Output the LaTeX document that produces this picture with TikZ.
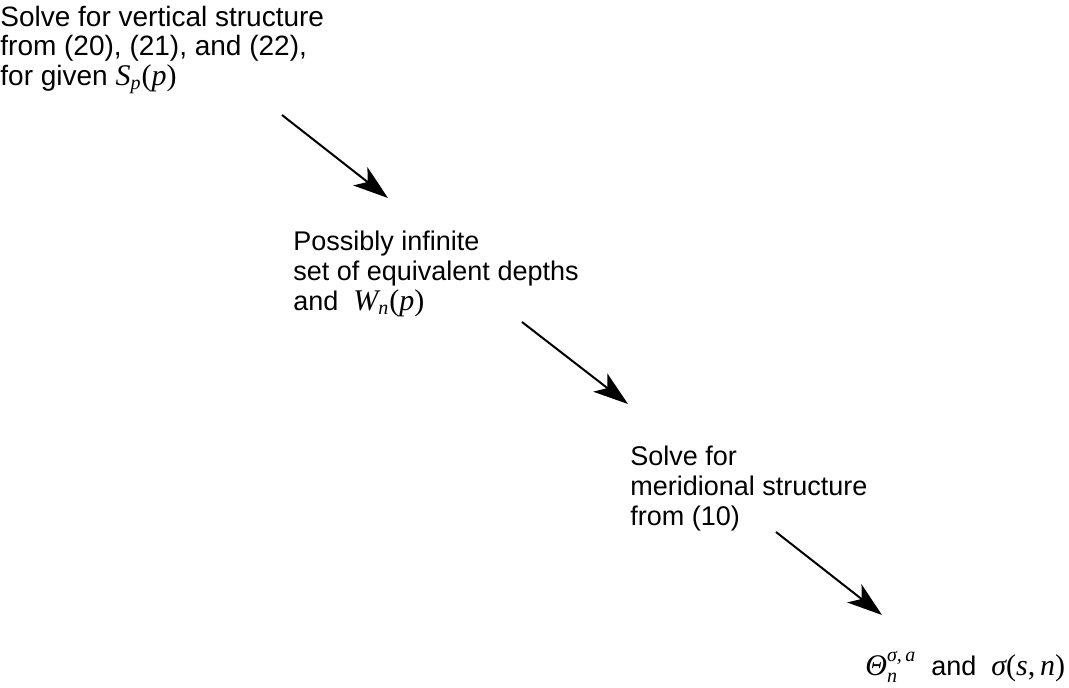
\documentclass[tikz,border=0pt]{standalone}
\usepackage{fontspec}
\setmainfont{Liberation Sans}
\newfontfamily\timesit{Liberation Serif}
\usepackage{tikz}
\usetikzlibrary{arrows.meta}

\newcommand{\mv}[1]{\hbox{\fontsize{15pt}{16pt}\timesit\itshape #1}}
\newcommand{\sv}[1]{\mbox{\fontsize{10pt}{10pt}\timesit\itshape #1}}
\newcommand{\pr}[1]{\hbox{\fontsize{15pt}{16pt}\timesit #1}}

\begin{document}
\begin{tikzpicture}[
    x=0.5pt, y=-0.5pt,
    every node/.style={
        align=left,
        anchor=base west,
        inner sep=0pt,
        font=\fontsize{13.5pt}{15pt}\selectfont
    },
    flow/.style={
        line width=1pt,
        -{Stealth[length=17.5pt,width=11.5pt,inset=4.5pt]}
    }
]
\useasboundingbox (0,0) rectangle (1069,687);

% anchors sit on the last line
\node[font=\fontsize{14pt}{14.75pt}\selectfont] (1) at (0,85) {Solve for vertical structure\\
from (20), (21), and (22),\\
for given ${\mv{S}}_{\sv{p}}\pr{(}\mv{p}\pr{)}$};
\node (2) at (293,310) {Possibly infinite\\
set of equivalent depths\\
and \ ${\mv{W}}_{\sv{n}}\pr{(}\mv{p}\pr{)}$};
\node (3) at (630,525) {Solve for\\
meridional structure\\
from (10)};
\node (4) at (865,675) {${\mv{Θ}}^{\sv{σ,\,a}}_{\sv{n}}$\ \ and \ $\mv{σ}\pr{(}\mv{s}\pr{,}\,\mv{n}\pr{)}$};

\coordinate (1s) at (282,115);
\coordinate (2e) at (388,198);
\coordinate (2s) at (522,322);
\coordinate (3e) at (628,404);
\coordinate (3s) at (776,532);
\coordinate (4e) at (882,615);

\draw[flow] (1s) -- (2e);
\draw[flow] (2s) -- (3e);
\draw[flow] (3s) -- (4e);

\end{tikzpicture}
\end{document}
